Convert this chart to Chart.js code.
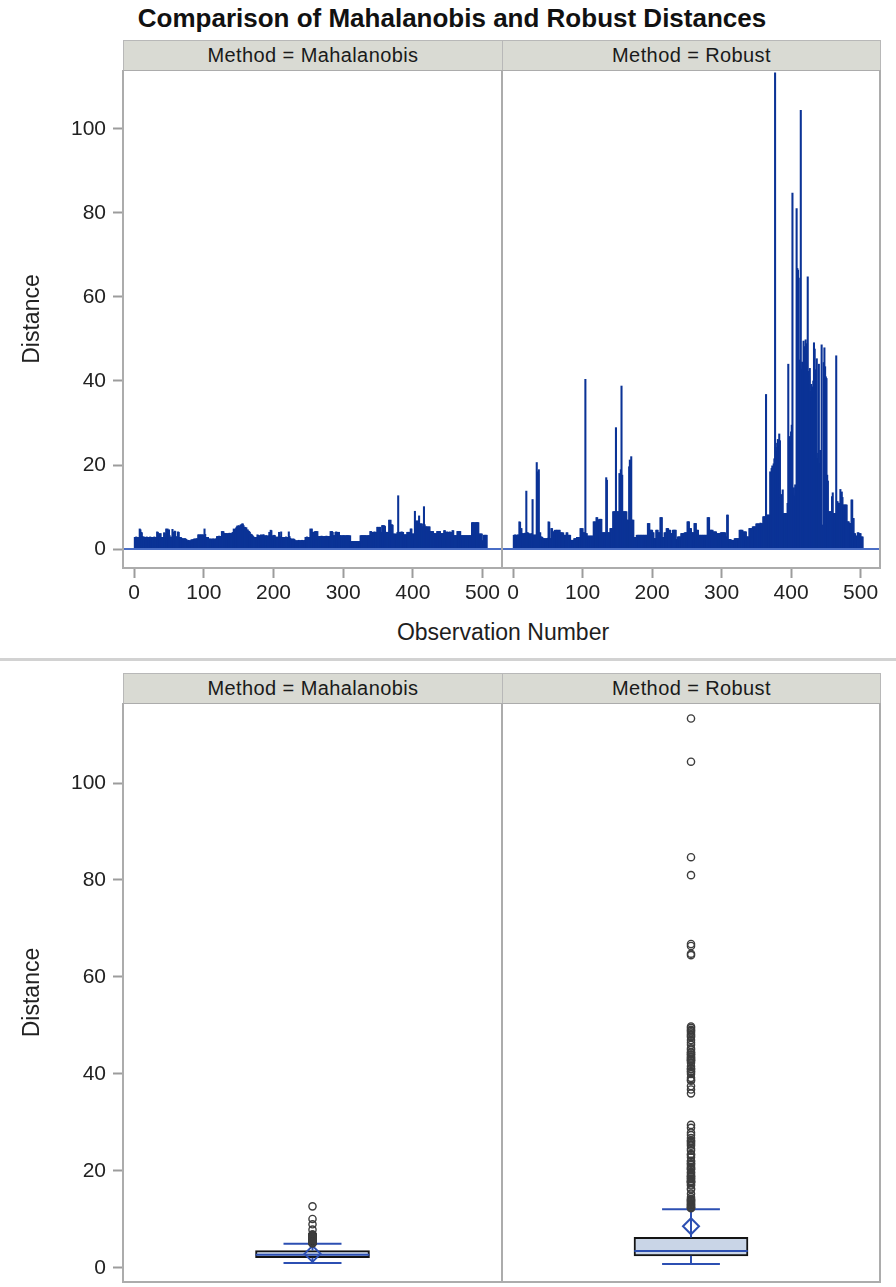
<!DOCTYPE html>
<html>
<head>
<meta charset="utf-8">
<script src="https://cdn.jsdelivr.net/npm/chart.js@4.4.1/dist/chart.umd.min.js"></script>
<style>
  body { margin: 0; background: #fff; width: 896px; height: 1287px; position: relative; overflow: hidden;
         font-family: "Liberation Sans", Arial, sans-serif; color: #1e1e1e; }
  .abs { position: absolute; }
  #title { position: absolute; left: 0; top: 3px; width: 904px; text-align: center; font-weight: bold;
           font-size: 26px; line-height: 30px; color: #111; }
  .strip { position: absolute; height: 31px; background: #d9dad3; border: 1px solid #b8b8b8; box-sizing: border-box;
           text-align: center; line-height: 29px; font-size: 20px; letter-spacing: 0.4px; color: #1a1a1a; }
  #xtitle { position: absolute; left: 303px; width: 400px; top: 619px; text-align: center; font-size: 23px; line-height: 27px; }
  #sep { position: absolute; left: 0; width: 896px; top: 658px; height: 3px; background: #d2d2d2; }
</style>
</head>
<body>
<div id="title">Comparison of Mahalanobis and Robust Distances</div>
<div class="strip" id="stripTL" style="left:123px;top:40px;width:380px"></div>
<div class="strip" id="stripTR" style="left:502px;top:40px;width:379px"></div>
<canvas id="needleLeft" class="abs" width="502" height="532" style="left:0;top:70px"></canvas>
<canvas id="needleRight" class="abs" width="394" height="532" style="left:502px;top:70px"></canvas>
<div id="xtitle">Observation Number</div>
<div id="sep"></div>
<div class="strip" id="stripBL" style="left:123px;top:673px;width:380px"></div>
<div class="strip" id="stripBR" style="left:502px;top:673px;width:379px"></div>
<canvas id="boxLeft" class="abs" width="502" height="584" style="left:0;top:703px"></canvas>
<canvas id="boxRight" class="abs" width="394" height="584" style="left:502px;top:703px"></canvas>

<script>
// distances per observation (obs 1..506)
const mahalanobis = [
  2.8, 2.8, 2.9, 2.8, 2.8, 2.7, 2.8, 4.8, 4.6, 4.0, 3.9, 3.0, 2.8, 2.9, 2.7, 2.8, 2.8, 2.9, 2.8, 2.7,
  2.8, 2.8, 2.9, 2.8, 2.8, 2.7, 2.8, 2.8, 2.9, 2.8, 2.8, 2.8, 4.1, 4.0, 3.2, 3.7, 3.6, 3.7, 2.8, 2.8,
  2.7, 2.8, 3.9, 3.8, 2.8, 4.8, 3.0, 4.8, 3.4, 4.6, 3.2, 2.8, 2.8, 2.9, 4.7, 4.0, 3.0, 4.3, 4.2, 3.0,
  2.8, 2.6, 4.1, 4.0, 2.8, 2.6, 2.8, 2.6, 2.5, 2.4, 2.5, 2.4, 2.5, 2.4, 2.3, 2.0, 2.0, 2.1, 2.0, 1.9,
  2.0, 2.2, 2.2, 2.2, 2.3, 2.4, 2.4, 2.4, 2.4, 2.5, 2.4, 3.4, 3.4, 3.3, 3.4, 3.4, 3.3, 3.4, 3.4, 3.0,
  4.8, 3.5, 2.8, 2.8, 2.7, 2.8, 2.4, 2.4, 2.4, 2.4, 2.3, 2.4, 2.4, 2.4, 2.4, 2.3, 2.4, 2.5, 3.0, 3.0,
  3.0, 3.1, 3.0, 3.0, 3.0, 4.2, 4.1, 4.2, 3.8, 3.7, 3.7, 3.7, 3.7, 3.6, 3.7, 3.7, 3.8, 3.7, 3.7, 3.7,
  3.9, 4.0, 4.8, 4.7, 4.5, 4.9, 5.2, 5.5, 5.4, 5.6, 5.5, 5.3, 5.8, 5.7, 6.0, 6.0, 5.6, 5.2, 5.2, 5.0,
  5.1, 4.5, 4.6, 4.3, 4.2, 4.0, 3.6, 3.5, 3.4, 3.2, 3.0, 2.8, 2.8, 2.7, 2.8, 2.8, 3.4, 3.3, 2.8, 3.2,
  3.2, 3.4, 3.3, 2.9, 3.4, 3.4, 3.2, 2.8, 3.2, 3.2, 3.1, 2.8, 3.2, 4.0, 3.9, 4.5, 4.4, 3.0, 3.2, 3.2,
  3.3, 3.2, 2.8, 2.8, 2.9, 2.8, 2.8, 4.0, 3.0, 2.8, 4.1, 2.8, 2.8, 2.8, 2.7, 2.8, 2.8, 2.9, 2.8, 2.8,
  2.8, 4.1, 3.0, 2.6, 2.4, 2.4, 2.2, 2.4, 2.4, 2.3, 2.0, 2.0, 2.0, 1.9, 2.0, 2.1, 2.0, 2.0, 2.0, 2.0,
  2.1, 2.0, 2.0, 2.0, 2.1, 2.8, 2.8, 2.9, 2.8, 2.8, 2.8, 2.8, 4.8, 4.6, 4.8, 4.0, 4.0, 4.0, 4.1, 4.2,
  4.2, 4.0, 4.2, 3.0, 3.0, 3.0, 3.0, 3.0, 3.1, 3.0, 3.0, 2.9, 3.0, 3.0, 3.0, 3.1, 3.0, 3.0, 3.0, 3.0,
  3.0, 4.2, 4.1, 4.2, 4.0, 3.2, 3.2, 3.2, 4.0, 4.1, 4.0, 4.0, 3.9, 4.0, 3.2, 3.2, 3.2, 3.1, 3.2, 3.2,
  3.2, 3.2, 3.1, 3.2, 3.2, 3.2, 3.2, 3.2, 3.1, 3.2, 1.8, 1.8, 1.8, 1.8, 1.8, 1.8, 1.8, 1.8, 1.8, 1.8,
  1.8, 1.8, 1.8, 1.8, 3.2, 3.2, 3.2, 3.2, 3.2, 3.2, 3.2, 3.2, 3.2, 3.1, 3.2, 3.2, 3.2, 3.2, 4.2, 4.2,
  4.0, 4.0, 4.0, 4.0, 4.1, 4.0, 4.0, 4.0, 5.2, 5.2, 5.1, 5.2, 5.2, 4.0, 4.0, 5.6, 5.6, 5.5, 5.6, 5.4,
  4.0, 4.0, 4.0, 4.0, 4.0, 6.9, 6.8, 6.9, 5.8, 5.8, 5.7, 3.6, 3.6, 3.6, 3.5, 3.6, 3.6, 4.0, 12.7, 4.0,
  4.0, 4.0, 4.0, 4.1, 4.0, 4.0, 3.4, 3.4, 3.4, 3.4, 3.4, 4.0, 4.0, 4.0, 4.0, 4.0, 4.8, 4.8, 3.6, 3.6,
  3.6, 3.6, 9.0, 6.7, 6.7, 6.6, 6.7, 6.7, 7.9, 6.0, 6.0, 6.0, 6.0, 5.3, 5.3, 10.1, 5.8, 5.3, 5.3, 5.3,
  5.3, 5.2, 5.3, 5.3, 4.2, 4.2, 4.1, 4.2, 4.2, 3.7, 3.7, 3.7, 3.6, 3.7, 4.2, 4.2, 4.1, 4.2, 4.2, 3.7,
  3.7, 3.7, 3.7, 3.7, 4.4, 4.4, 4.0, 4.0, 4.1, 4.0, 4.0, 4.0, 4.1, 4.0, 4.0, 4.0, 4.4, 4.4, 3.2, 3.2,
  3.2, 3.2, 3.2, 4.2, 4.2, 4.1, 4.2, 4.2, 3.2, 3.2, 3.2, 3.2, 3.2, 3.2, 3.2, 3.2, 3.2, 3.2, 3.2, 3.2,
  3.2, 3.2, 3.2, 3.2, 6.3, 6.3, 6.3, 6.3, 6.2, 6.3, 6.3, 6.3, 6.3, 6.3, 3.6, 3.6, 3.6, 3.6, 3.6, 2.0,
  2.0, 3.3, 3.3, 3.3, 3.3, 3.3
];

const robust = [
  3.3, 3.3, 3.4, 3.3, 3.3, 3.3, 3.4, 3.3, 6.5, 6.4, 4.9, 4.9, 3.7, 3.7, 3.6, 3.7, 3.8, 3.7, 13.8, 3.9,
  3.9, 3.8, 3.6, 3.6, 3.6, 3.6, 3.7, 11.8, 3.4, 3.3, 3.3, 3.4, 3.3, 20.6, 18.4, 17.8, 18.9, 3.9, 3.9, 2.9,
  2.9, 2.8, 2.5, 2.5, 2.5, 2.5, 2.4, 2.5, 2.5, 2.6, 6.5, 6.4, 2.5, 2.5, 4.9, 4.9, 4.1, 4.1, 4.1, 4.5,
  4.4, 4.5, 4.5, 4.5, 4.4, 4.5, 4.5, 3.9, 3.9, 3.9, 3.8, 3.9, 3.3, 3.3, 3.3, 3.3, 3.9, 3.9, 3.3, 3.3,
  3.3, 3.3, 2.1, 2.1, 2.1, 2.1, 2.1, 2.5, 2.5, 2.5, 2.5, 2.8, 2.8, 2.8, 2.8, 2.8, 4.9, 4.9, 4.8, 4.9,
  3.9, 3.9, 3.9, 40.4, 3.7, 3.7, 3.1, 3.1, 3.1, 3.1, 3.1, 3.1, 3.1, 3.1, 3.1, 6.5, 6.5, 6.4, 6.5, 7.5,
  7.5, 6.9, 6.9, 7.1, 7.1, 7.1, 7.1, 3.9, 3.9, 3.9, 3.9, 3.9, 3.9, 17.0, 16.4, 3.9, 3.9, 3.9, 3.9, 4.9,
  4.9, 4.9, 4.9, 8.9, 8.9, 8.9, 8.9, 28.9, 8.9, 8.9, 8.9, 8.9, 18.0, 17.2, 18.9, 38.8, 17.6, 8.9, 8.9, 8.9,
  8.9, 8.9, 8.9, 6.9, 6.9, 6.9, 19.6, 21.2, 20.8, 22.0, 6.9, 6.9, 6.9, 2.8, 2.8, 2.8, 2.8, 3.3, 3.3, 3.3,
  3.3, 3.3, 3.3, 3.3, 3.3, 3.3, 3.3, 3.3, 3.3, 3.3, 3.3, 3.3, 3.3, 6.1, 6.1, 6.1, 4.5,
  4.5, 4.5, 4.5, 3.9, 3.9, 2.5, 2.5, 2.5, 4.5, 4.5, 4.5, 3.9, 3.9, 3.9, 7.5, 7.5, 7.5, 2.8, 2.8, 2.8,
  3.9, 3.9, 3.9, 4.9, 4.9, 4.9, 4.5, 4.5, 4.5, 3.7, 3.7, 3.7, 4.5, 4.5, 4.5, 4.5, 4.5, 2.3, 2.3, 2.9,
  2.9, 2.9, 2.9, 2.9, 3.7, 3.7, 3.7, 3.7, 3.7, 3.9, 3.9, 3.9, 3.9, 6.5, 6.5, 6.5, 4.9, 4.9, 4.9, 3.9,
  3.9, 3.9, 3.9, 6.1, 6.1, 6.1, 4.5, 4.5, 4.5, 3.3, 3.3, 3.3, 3.3, 3.3, 3.3, 3.3, 3.3, 3.3, 3.3, 3.3,
  3.3, 3.3, 7.5, 7.5, 7.5, 4.5, 4.5, 4.5, 4.5, 4.5, 4.1, 4.1, 4.1, 4.1, 4.1, 3.7, 3.7, 3.7, 3.7, 3.7,
  3.7, 3.9, 3.9, 3.9, 3.9, 3.9, 3.9, 3.9, 2.9, 2.9, 8.1, 8.1, 2.3, 2.3, 2.3, 2.3, 2.1, 2.1, 2.1, 2.1,
  2.1, 2.5, 2.5, 2.5, 2.5, 2.5, 2.5, 2.5, 4.5, 4.5, 4.5, 4.5, 4.5, 4.1, 4.1, 4.1, 4.1, 4.1, 2.9, 2.9,
  2.9, 2.9, 4.9, 4.9, 4.9, 4.9, 4.9, 5.3, 5.3, 5.3, 5.3, 5.3, 6.0, 6.0, 6.0, 6.0, 6.0, 6.0, 6.2, 6.0,
  6.1, 6.0, 7.7, 7.7, 7.7, 7.7, 36.8, 8.1, 8.1, 8.1, 8.1, 8.1, 18.4, 17.9, 19.2, 19.8, 18.7, 20.3, 21.5, 113.3,
  24.2, 23.3, 25.2, 26.1, 24.6, 27.4, 25.8, 12.1, 13.0, 12.4, 14.1, 8.5, 8.5, 8.5, 8.5, 8.5, 8.5, 10.9, 44.0, 26.3,
  26.8, 25.5, 27.9, 29.5, 84.7, 13.2, 14.6, 12.6, 15.3, 13.9, 81.0, 66.8, 66.4, 64.5, 45.0, 43.6, 104.4, 42.8, 44.5, 43.2,
  49.5, 48.2, 47.0, 49.8, 46.5, 48.9, 64.8, 42.3, 41.1, 43.0, 37.5, 39.2, 36.0, 38.6, 40.0, 49.1, 47.6, 41.6, 42.7, 45.3,
  21.6, 22.8, 44.0, 20.4, 23.5, 22.1, 48.6, 5.7, 5.7, 44.4, 47.9, 43.4, 41.0, 40.6, 17.6, 16.2, 8.9, 8.9, 8.9, 8.9,
  8.9, 12.5, 13.4, 8.5, 8.5, 8.5, 8.5, 46.0, 11.3, 11.3, 10.9, 10.9, 10.9, 14.2, 12.9, 13.6, 12.3, 10.5, 10.5, 10.5,
  10.5, 10.5, 10.5, 6.5, 6.5, 6.5, 6.1, 6.1, 6.1, 11.7, 11.7, 7.3, 7.3, 3.7, 3.7, 3.1, 3.1, 3.1, 3.9, 3.9,
  3.7, 3.7, 3.7, 2.9, 2.9, 2.9
];

const methods = ['Mahalanobis', 'Robust'];
const xTickValues = [0, 100, 200, 300, 400, 500];
const yTickValues = [0, 20, 40, 60, 80, 100];

// box plot summaries
const boxQ1 = [2.1, 2.5];
const boxMedian = [2.7, 3.5];
const boxQ3 = [3.6, 6.3];
const boxMean = [2.9, 8.6];
const whiskerLow = [1.0, 0.8];
const whiskerHigh = [5.0, 12.1];

const X_MIN = -16, X_MAX = 528;
const Y_MIN = -4.5, Y_MAX = 114;
const BOX_Y_MIN = -2.9, BOX_Y_MAX = 116.5;
const BOX_HALF = 0.30, CAP_HALF = 0.153;

const needleBlue = '#0b3396';
const baseBlue = '#4a6ec6';
const boxBlue = '#2c4fb2';
const boxFill = '#c9d5e7';
const frameGray = '#acacac';
const textColor = '#222';

Chart.defaults.font.family = '"Liberation Sans", Arial, sans-serif';
Chart.defaults.font.size = 21;
Chart.defaults.color = textColor;

document.getElementById('stripTL').textContent = 'Method = ' + methods[0];
document.getElementById('stripTR').textContent = 'Method = ' + methods[1];
document.getElementById('stripBL').textContent = 'Method = ' + methods[0];
document.getElementById('stripBR').textContent = 'Method = ' + methods[1];

const framePlugin = {
  id: 'frame',
  afterDraw(chart) {
    const { ctx, chartArea: a } = chart;
    ctx.save();
    ctx.strokeStyle = frameGray;
    ctx.lineWidth = 2;
    ctx.strokeRect(a.left, a.top, a.right - a.left, a.bottom - a.top);
    ctx.restore();
  }
};

function yAxis(showY, min, max) {
  return {
    type: 'linear', min, max, display: showY,
    afterBuildTicks: s => { s.ticks = yTickValues.map(v => ({ value: v })); },
    afterFit: s => {
      s.width = showY ? 123 : 0;
      s.paddingTop = 0; s.paddingBottom = 0;
    },
    grid: { display: true, drawOnChartArea: false, drawTicks: true, tickLength: 10, tickColor: '#9c9c9c', tickWidth: 2 },
    border: { display: false },
    ticks: { padding: 7, color: textColor, font: { size: 21 } },
    title: { display: true, text: 'Distance', color: textColor, font: { size: 23 }, padding: { top: 19, bottom: 0 } }
  };
}

function needleChart(id, values, showY, padRight) {
  return new Chart(document.getElementById(id), {
    type: 'bar',
    data: {
      datasets: [
        { type: 'line', data: [{ x: X_MIN, y: 0 }, { x: X_MAX, y: 0 }], borderColor: baseBlue, borderWidth: 2,
          pointRadius: 0, order: 0 },
        { type: 'bar', data: values.map((v, i) => ({ x: i + 1, y: v })), backgroundColor: needleBlue,
          borderWidth: 0, barThickness: 1.4, order: 1 }
      ]
    },
    options: {
      responsive: false, animation: false, events: [],
      layout: { autoPadding: false, padding: { left: 0, right: padRight, top: 0, bottom: 0 } },
      plugins: { legend: { display: false }, tooltip: { enabled: false } },
      scales: {
        x: {
          type: 'linear', min: X_MIN, max: X_MAX, offset: false,
          afterBuildTicks: s => { s.ticks = xTickValues.map(v => ({ value: v })); },
          afterFit: s => { s.height = 34; s.paddingLeft = 0; s.paddingRight = 0; },
          grid: { display: true, offset: false, drawOnChartArea: false, drawTicks: true, tickLength: 10,
                  tickColor: '#9c9c9c', tickWidth: 2 },
          border: { display: false },
          ticks: { autoSkip: false, maxRotation: 0, padding: 3, color: textColor, font: { size: 21 } }
        },
        y: yAxis(showY, Y_MIN, Y_MAX)
      }
    },
    plugins: [framePlugin]
  });
}

function segment(x1, y1, x2, y2) {
  return { type: 'line', data: [{ x: x1, y: y1 }, { x: x2, y: y2 }], borderColor: boxBlue, borderWidth: 2,
           pointRadius: 0, order: 2 };
}

function boxChart(id, k, values, showY, padRight) {
  const outliers = values.filter(v => v > whiskerHigh[k] || v < whiskerLow[k]);
  return new Chart(document.getElementById(id), {
    type: 'bar',
    data: {
      datasets: [
        { type: 'scatter', data: outliers.map(v => ({ x: 0, y: v })), pointStyle: 'circle', pointRadius: 3.6,
          borderColor: '#3c3c3c', borderWidth: 1.4, backgroundColor: 'rgba(0,0,0,0)', order: 0 },
        { type: 'scatter', data: [{ x: 0, y: boxMean[k] }], pointStyle: 'rectRot', pointRadius: 8,
          borderColor: boxBlue, borderWidth: 2, backgroundColor: 'rgba(0,0,0,0)', order: 1 },
        segment(-BOX_HALF, boxMedian[k], BOX_HALF, boxMedian[k]),
        segment(0, boxQ3[k], 0, whiskerHigh[k]),
        segment(0, whiskerLow[k], 0, boxQ1[k]),
        segment(-CAP_HALF, whiskerHigh[k], CAP_HALF, whiskerHigh[k]),
        segment(-CAP_HALF, whiskerLow[k], CAP_HALF, whiskerLow[k]),
        { type: 'bar', data: [{ x: 0, y: [boxQ1[k], boxQ3[k]] }], backgroundColor: boxFill, borderColor: '#141414',
          borderWidth: 2, borderSkipped: false, barThickness: 114, order: 5 }
      ]
    },
    options: {
      responsive: false, animation: false, events: [],
      layout: { autoPadding: false, padding: { left: 0, right: padRight, top: 0, bottom: 5 } },
      plugins: { legend: { display: false }, tooltip: { enabled: false } },
      scales: {
        x: { type: 'linear', min: -1, max: 1, offset: false, display: false, grid: { offset: false } },
        y: yAxis(showY, BOX_Y_MIN, BOX_Y_MAX)
      }
    },
    plugins: [framePlugin]
  });
}

needleChart('needleLeft', mahalanobis, true, 0);
needleChart('needleRight', robust, false, 16);
boxChart('boxLeft', 0, mahalanobis, true, 0);
boxChart('boxRight', 1, robust, false, 16);
</script>
</body>
</html>
